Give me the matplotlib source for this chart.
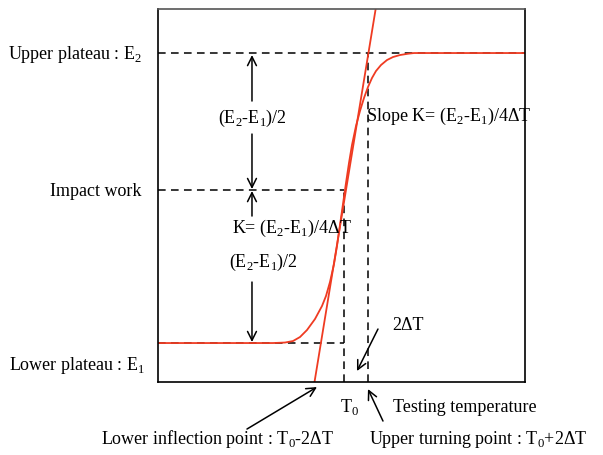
import numpy as np
import matplotlib.pyplot as plt

plt.rcParams['font.family'] = ['Liberation Serif', 'DejaVu Serif']
plt.rcParams['mathtext.fontset'] = 'custom'
plt.rcParams['mathtext.rm'] = 'Liberation Serif'

# schematic units (temperature on x, impact energy on y)
E1 = 39
E2 = 329
E_impact = 192
T0 = 186
dT = 12
K = 6.1              # slope of tangent
tan_anchor = (188, 192)

# transition curve
curve_T = [0, 115, 127, 135, 142, 149, 157, 164, 168, 172, 176, 179, 182, 185,
           188, 191, 194, 198, 202, 206, 210, 214, 218, 223, 229, 235, 242, 250,
           256, 367]
curve_E = [39, 39, 39.5, 41, 45, 52, 63, 76, 86, 100, 118, 136, 157, 178,
           199, 219, 237, 256, 271, 284, 295, 304, 311, 317, 322, 325, 327,
           328.3, 329, 329]

red = '#ef3b22'
sub = lambda s: r'$_\mathregular{%s}$' % s

fig = plt.figure(figsize=(6.03, 4.56), dpi=100)
ax = fig.add_axes([0.262, 0.160, 0.6086, 0.818])
ax.set_xlim(0, 367)
ax.set_ylim(0, 373)
ax.set_xticks([])
ax.set_yticks([])
for s in ['left', 'right', 'bottom']:
    ax.spines[s].set_linewidth(1.2)
ax.spines['top'].set_color('#555555')
ax.spines['top'].set_linewidth(1.2)

dash = dict(color='black', lw=1.1, ls=(0, (5, 3.5)))
ax.plot([0, 367], [E2, E2], **dash)
ax.plot([0, T0], [E_impact, E_impact], **dash)
ax.plot([0, T0], [E1, E1], **dash)
ax.plot([T0, T0], [0, E_impact], **dash)
ax.plot([T0 + 2 * dT, T0 + 2 * dT], [0, E2], **dash)

# curve + tangent
ax.plot(curve_T, curve_E, color=red, lw=1.3)
ty = np.array([0, 373])
tx = tan_anchor[0] + (ty - tan_anchor[1]) / K
ax.plot(tx, ty, color=red, lw=1.3)

arr = dict(arrowstyle='->', color='black', lw=1.1, mutation_scale=16, shrinkA=0, shrinkB=0)
xa = 94
ax.annotate('', xy=(xa, E2 - 2), xytext=(xa, 281), arrowprops=arr)
ax.annotate('', xy=(xa, E_impact + 1), xytext=(xa, 248), arrowprops=arr)
ax.annotate('', xy=(xa, E_impact - 1), xytext=(xa, 166), arrowprops=arr)
ax.annotate('', xy=(xa, E1 + 1), xytext=(xa, 100), arrowprops=arr)

fs = 13
E2mE1 = '(E' + sub('2') + '-E' + sub('1') + ')'
ax.text(xa, 265, E2mE1 + '/2', fontsize=fs, ha='center', va='center')
ax.text(74, 155, 'K= ' + E2mE1 + '/4ΔT', fontsize=fs, ha='left', va='center')
ax.text(71, 121, E2mE1 + '/2', fontsize=fs, ha='left', va='center')
ax.text(208, 267, 'Slope K= ' + E2mE1 + '/4ΔT', fontsize=fs, ha='left', va='center')
ax.text(234, 58, '2ΔT', fontsize=fs, ha='left', va='center')

ax.text(-16, E2, 'Upper plateau : E' + sub('2'), fontsize=fs, ha='right', va='center')
ax.text(-16, E_impact, 'Impact work', fontsize=fs, ha='right', va='center')
ax.text(-13, 18, 'Lower plateau : E' + sub('1'), fontsize=fs, ha='right', va='center')

ax.text(T0 + 6, -24, 'T' + sub('0'), fontsize=fs, ha='center', va='center')
ax.text(235, -24, 'Testing temperature', fontsize=fs, ha='left', va='center')
ax.text(-57, -56, 'Lower inflection point : T' + sub('0') + '-2ΔT', fontsize=fs,
        ha='left', va='center')
ax.text(211, -56, 'Upper turning point : T' + sub('0') + '+2ΔT', fontsize=fs,
        ha='left', va='center')

ax.annotate('', xy=(199, 11), xytext=(220, 53), arrowprops=arr, annotation_clip=False)
ax.annotate('', xy=(159, -5), xytext=(89, -47), arrowprops=arr, annotation_clip=False)
ax.annotate('', xy=(210, -7), xytext=(225, -39), arrowprops=arr, annotation_clip=False)

fig.savefig('out.png', dpi=100)
